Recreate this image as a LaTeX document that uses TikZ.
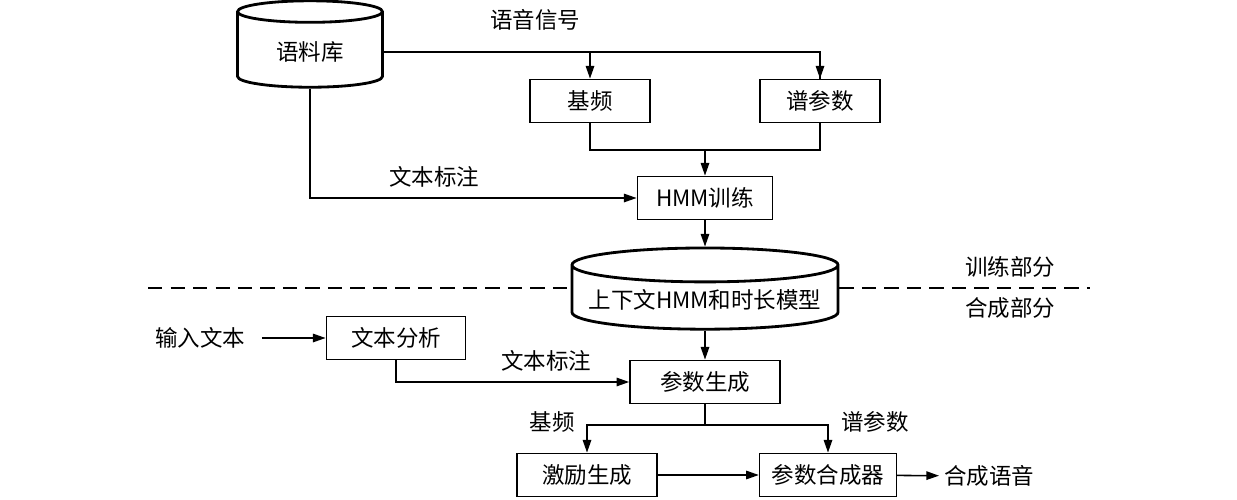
\documentclass[tikz,border=0pt]{standalone}
\usepackage{fontspec}
\setmainfont{Noto Sans CJK SC}
\usetikzlibrary{shapes.geometric}
\usetikzlibrary{arrows.meta}

\begin{document}
\begin{tikzpicture}[x=0.025cm, y=-0.025cm,
    font=\fontsize{16}{19}\selectfont,
    box/.style={draw, line width=1.1pt, minimum height=1.08cm},
    db/.style={draw, cylinder, shape border rotate=90, line width=2pt},
    arr/.style={line width=1.1pt, arrows={-Triangle[width=6pt, length=9pt]}},
    ln/.style={line width=1.1pt},
    sep/.style={line width=2pt, dash pattern=on 10pt off 6pt}]
    \useasboundingbox (0, 0) rectangle (1237, 500);
    % training part
    \node[db, aspect=0.28, minimum width=3.62cm, minimum height=2.16cm] (ylk) at (310, 52) {语料库};
    \node[box, minimum width=3cm] (jp) at (590, 101) {基频};
    \node[box, minimum width=3cm] (pcs) at (820, 101) {谱参数};
    \node[box, minimum width=3.38cm] (hmm) at (705, 198) {HMM训练};
    \node[db, aspect=0.14, minimum width=6.65cm, minimum height=2.03cm] (model) at (705, 300) {上下文HMM和时长模型};
    \node (yyxh) at (535, 20) {语音信号};
    \node (wbbz1) at (434, 177) {文本标注};
    \coordinate (m1) at (705, 150);
    \draw[ln] (ylk.east) -| (pcs.north);
    \draw[arr] (ylk.east -| pcs.north) -- (pcs.north);
    \draw[arr] (ylk.east -| jp.north) -- (jp.north);
    \draw[ln] (jp.south) |- (m1) -| (pcs.south);
    \draw[arr] (m1) -- (hmm.north);
    \draw[arr] (ylk.south) |- (hmm.west);
    \draw[arr] (hmm.south) -- (model.north);
    % dividing line
    \coordinate (dl) at (148, 288);
    \coordinate (dr) at (1090, 288);
    \draw[sep] (dl) -- (dl -| model.west);
    \draw[sep] (dr -| model.east) -- (dr);
    \node (xl) at (1010, 267) {训练部分};
    \node (hc) at (1010, 308) {合成部分};
    % synthesis part
    \node (inp) at (200, 338) {输入文本};
    \node[box, minimum width=3.48cm] (wbfx) at (396, 338) {文本分析};
    \node[box, minimum width=3.75cm] (cssc) at (705, 382) {参数生成};
    \node[box, minimum width=3.5cm] (jlsc) at (587, 475) {激励生成};
    \node[box, minimum width=3.42cm] (hcq) at (828, 475) {参数合成器};
    \node (out) at (989, 476) {合成语音};
    \node (wbbz2) at (546, 361) {文本标注};
    \node (jp2) at (552, 422) {基频};
    \node (pcs2) at (875, 422) {谱参数};
    \coordinate (m2) at (705, 425);
    \draw[arr, shorten <=0.3cm] (inp) -- (wbfx);
    \draw[arr] (wbfx.south) |- (cssc.west);
    \draw[arr] (model.south) -- (cssc.north);
    \draw[ln] (cssc.south) -- (m2);
    \draw[arr] (m2) -| (jlsc.north);
    \draw[arr] (m2) -| (hcq.north);
    \draw[arr] (jlsc) -- (hcq);
    \draw[arr] (hcq) -- (out);
\end{tikzpicture}
\end{document}
